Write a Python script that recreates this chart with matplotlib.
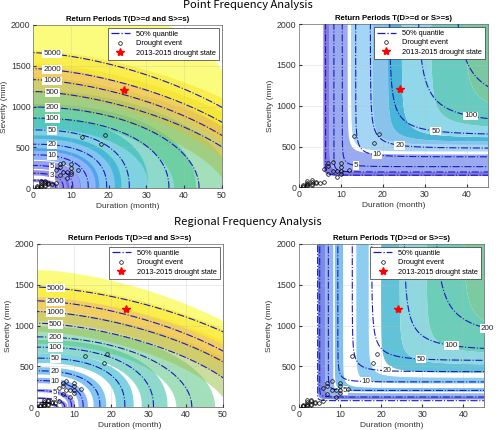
import numpy as np
import matplotlib.pyplot as plt
from matplotlib.colors import LinearSegmentedColormap
from matplotlib.lines import Line2D

# return-period levels (years)
levels = [2, 3, 5, 10, 20, 50, 100, 200, 500, 1000, 2000, 5000]

# observed drought events (duration in months, severity in mm)
event_dur = [1, 1, 1, 2, 2, 2, 2, 2, 3, 3, 3, 3, 4, 4, 5, 6,
             6, 7, 7, 7, 8, 8, 9, 9, 10, 10, 10, 10, 12, 13, 18, 19]
event_sev = [10, 20, 30, 15, 30, 45, 60, 85, 25, 40, 70, 90, 50, 65, 55, 70,
             230, 300, 265, 165, 205, 315, 205, 130, 300, 255, 170, 205, 220, 625, 540, 650]
drought_2015 = (24, 1200)

# Point, T(D>=d and S>=s): severity at d=0, duration reach, shape, band factors
pa_sev = [100, 185, 280, 410, 540, 715, 860, 995, 1185, 1330, 1465, 1660]
pa_dur = [6, 8, 10.5, 14.6, 19.5, 25.5, 36, 44, 60.3, 63.5, 68, 71.8]
pa_shape = [2.5, 2.5, 2.5, 2.5, 2.5, 2.4, 2.2, 2.0, 1.6, 1.6, 1.6, 1.6]
pa_lo = [0.75, 0.85, 0.85, 0.85, 0.85, 0.85, 0.85, 0.85, 0.85, 0.88, 0.9, 0.9]
pa_hi = [1.12, 1.2, 1.2, 1.2, 1.2, 1.2, 1.2, 1.2, 1.15, 1.15, 1.15, 1.15]
pa_top = (56, 2200, 3.0)   # outer edge of the 5000-year band

# Point, T(D>=d or S>=s): duration asymptote, severity asymptote, shape
po_lev = [2, 3, 5, 10, 20, 50, 100, 200]
po_dur = [6.3, 8.3, 10.3, 13.5, 17.0, 21.5, 28.0, 36.5]
po_sev = [150, 190, 255, 375, 480, 640, 770, 960]
po_shape = [6, 6, 5, 4.5, 4, 3.5, 3, 3]
po_lab = {5: 13.6, 10: 18.6, 20: 24, 50: 32.6, 100: 41}
# filled uncertainty bands: inner / outer asymptotes and colour
pob_din = [5.8, 7.3, 12.4, 17.5, 21.2, 24.5, 31.5, 39.5]
pob_sin = [140, 195, 440, 520, 560, 610, 720, 900]
pob_dout = [7.3, 11.6, 17.5, 21.2, 24.5, 31.5, 39.5, 70]
pob_sout = [195, 405, 520, 560, 610, 720, 900, 1800]
pob_col = ['#8379e3', '#9aaaf0', '#a5d5f4', '#86c4ee', '#49b6d9', '#91d7ea', '#67cbbf', '#78c9a2']

# Regional, T(D>=d and S>=s)
ra_sev = [60, 110, 204, 327, 445, 600, 735, 861, 1029, 1171, 1302, 1470]
ra_dur = [5.4, 7.5, 9.4, 12.5, 17, 23.7, 31.4, 41.7, 57, 62.8, 66.2, 75]
ra_shape = [2.5, 2.5, 2.5, 2.5, 2.5, 2.5, 2.3, 2.0, 1.6, 1.6, 1.6, 1.6]
ra_lo = [0.85, 0.9, 0.9, 0.9, 0.9, 0.9, 0.9, 0.9, 0.9, 0.9, 0.92, 0.92]
ra_hi = [1.1, 1.1, 1.1, 1.1, 1.1, 1.1, 1.12, 1.15, 1.15, 1.15, 1.15, 1.15]
ra_top = (74.9, 1680, 1.6)

# Regional, T(D>=d or S>=s)
ro_lev = [2, 3, 5, 10, 20, 50, 100, 200, 500]
ro_dur = [4.6, 5.1, 7.2, 9.5, 13.0, 17.7, 25.5, 32.7, 42.0]
ro_sev = [80, 125, 205, 310, 435, 570, 690, 830, 1150]
ro_shape = [6, 6, 6, 5, 4.5, 4, 3.5, 3, 3]
ro_lab = {5: 11.2, 10: 16.4, 20: 21.4, 50: 29.7, 100: 37, 200: 45.8}
rob_din = [4.7, 6.4, 8.8, 14.0, 20.0, 24.5, 31.0, 40.0]
rob_sin = [95, 135, 190, 290, 420, 520, 650, 900]
rob_dout = [6.4, 8.4, 10.8, 17.0, 24.5, 31.0, 40.0, 70]
rob_sout = [135, 170, 235, 360, 520, 650, 900, 1800]
rob_col = ['#7b8ae8', '#9ab4f0', '#7ec1ec', '#8ccdf0', '#62c2d8', '#8fd8e0', '#6ccdb8', '#7ccaa0']

navy = (0.1, 0.1, 0.75)
parula = LinearSegmentedColormap.from_list('parula', [
    (0.242, 0.150, 0.660), (0.270, 0.330, 0.970), (0.140, 0.550, 0.930),
    (0.050, 0.660, 0.830), (0.180, 0.740, 0.650), (0.400, 0.790, 0.450),
    (0.750, 0.750, 0.250), (0.990, 0.750, 0.230), (0.977, 0.984, 0.081)])


def level_color(L):
    return parula(np.log(L / 2) / np.log(2500))


def and_curve(a, b, p, n=300):
    phi = np.linspace(0, np.pi / 2, n)
    return a * np.cos(phi) ** (2 / p), b * np.sin(phi) ** (2 / p)


def or_curve(a, b, p, n=800):
    phi = np.linspace(1e-5, np.pi / 2 - 1e-5, n)
    return a / np.cos(phi) ** (2 / p), b / np.sin(phi) ** (2 / p)


def setup(ax, title, xmax):
    ax.set_xlim(0, xmax)
    ax.set_ylim(0, 2000)
    ax.set_xticks(range(0, xmax + 1, 10))
    ax.set_yticks(range(0, 2001, 500))
    ax.set_title(title, fontsize=5.6, fontweight='bold', pad=3)
    ax.set_xlabel('Duration (month)', fontsize=6, labelpad=2, color='#333333')
    ax.set_ylabel('Severity (mm)', fontsize=6, labelpad=2, color='#333333')
    ax.tick_params(labelsize=6.3, direction='in', length=2, pad=2, colors='#333333')
    ax.grid(color='#bbbbbb', lw=0.4, alpha=0.5)
    ax.set_axisbelow(False)
    for sp in ax.spines.values():
        sp.set_linewidth(0.5)
        sp.set_color('#555555')


def draw_events(ax):
    ax.plot(event_dur, event_sev, 'o', mfc='none', mec='black', ms=2.6, mew=0.5, zorder=6)
    ax.plot(*drought_2015, '*', color='red', ms=6, zorder=7)
    handles = [Line2D([], [], ls='-.', color=navy, lw=0.9),
               Line2D([], [], ls='none', marker='o', mfc='none', mec='black', ms=2.6, mew=0.5),
               Line2D([], [], ls='none', marker='*', color='red', ms=6)]
    leg = ax.legend(handles, ['50% quantile', 'Drought event', '2013-2015 drought state'],
                    loc='upper right', fontsize=5.3, handlelength=2.6, borderpad=0.4,
                    labelspacing=0.3, framealpha=1, fancybox=False, edgecolor='#333333',
                    borderaxespad=0.4)
    leg.get_frame().set_linewidth(0.5)
    leg.set_zorder(10)


def label(ax, d, s, txt):
    ax.text(d, s, txt, fontsize=5.8, ha='center', va='center', color='#222222', zorder=4,
            clip_on=False, bbox=dict(boxstyle='square,pad=0.1', fc='white', ec='none'))


def and_panel(ax, sev, dur, shape, lo, hi, top):
    n = len(levels)
    for i, L in enumerate(levels):
        if i == n - 1:
            xo, yo = and_curve(*top)
        else:
            xo, yo = and_curve(dur[i] * hi[i], sev[i] * hi[i], shape[i])
        xi, yi = and_curve(dur[i] * lo[i], sev[i] * lo[i], shape[i])
        ax.fill(np.r_[xo, xi[::-1]], np.r_[yo, yi[::-1]], color=level_color(L),
                alpha=0.55, lw=0, zorder=1)
    for i, L in enumerate(levels):
        x, y = and_curve(dur[i], sev[i], shape[i])
        ax.plot(x, y, ls='-.', color=navy, lw=0.8, zorder=3)
        if L > 2:
            d = 5.0
            s = sev[i] * (1 - (d / dur[i]) ** shape[i]) ** (1 / shape[i])
            label(ax, d, s, str(L))


def or_panel(ax, lev, dur, sev, shape, labs, bdin, bsin, bdout, bsout, bcol):
    for k in range(len(bcol)):
        xo, yo = or_curve(bdout[k], bsout[k], 5)
        xi, yi = or_curve(bdin[k], bsin[k], 5)
        ax.fill(np.r_[xo, xi[::-1]], np.r_[yo, yi[::-1]], color=bcol[k], lw=0, zorder=1)
    for i, L in enumerate(lev):
        x, y = or_curve(dur[i], sev[i], shape[i])
        ax.plot(x, y, ls='-.', color=navy, lw=0.8, zorder=3)
        if L in labs:
            d = labs[L]
            s = sev[i] / (1 - (dur[i] / d) ** shape[i]) ** (1 / shape[i])
            label(ax, d, s, str(L))


fig = plt.figure(figsize=(4.96, 4.30), dpi=100)
plt.rcParams['font.family'] = ['Liberation Sans', 'DejaVu Sans']

ax1 = fig.add_axes([0.067, 0.562, 0.380, 0.380])
ax2 = fig.add_axes([0.603, 0.564, 0.380, 0.380])
ax3 = fig.add_axes([0.074, 0.053, 0.375, 0.380])
ax4 = fig.add_axes([0.602, 0.053, 0.374, 0.380])

and_panel(ax1, pa_sev, pa_dur, pa_shape, pa_lo, pa_hi, pa_top)
or_panel(ax2, po_lev, po_dur, po_sev, po_shape, po_lab,
         pob_din, pob_sin, pob_dout, pob_sout, pob_col)
and_panel(ax3, ra_sev, ra_dur, ra_shape, ra_lo, ra_hi, ra_top)
or_panel(ax4, ro_lev, ro_dur, ro_sev, ro_shape, ro_lab,
         rob_din, rob_sin, rob_dout, rob_sout, rob_col)

setup(ax1, 'Return Periods T(D>=d and S>=s)', 50)
setup(ax2, 'Return Periods T(D>=d or S>=s)', 45)
setup(ax3, 'Return Periods T(D>=d and S>=s)', 50)
setup(ax4, 'Return Periods T(D>=d or S>=s)', 45)
for ax in (ax1, ax2, ax3, ax4):
    draw_events(ax)

fig.text(0.5, 0.988, 'Point Frequency Analysis', ha='center', va='center', fontsize=8,
         family=['Noto Sans CJK KR', 'DejaVu Sans'])
fig.text(0.5, 0.484, 'Regional Frequency Analysis', ha='center', va='center', fontsize=8,
         family=['Noto Sans CJK KR', 'DejaVu Sans'])

fig.savefig('out.png', dpi=100)
